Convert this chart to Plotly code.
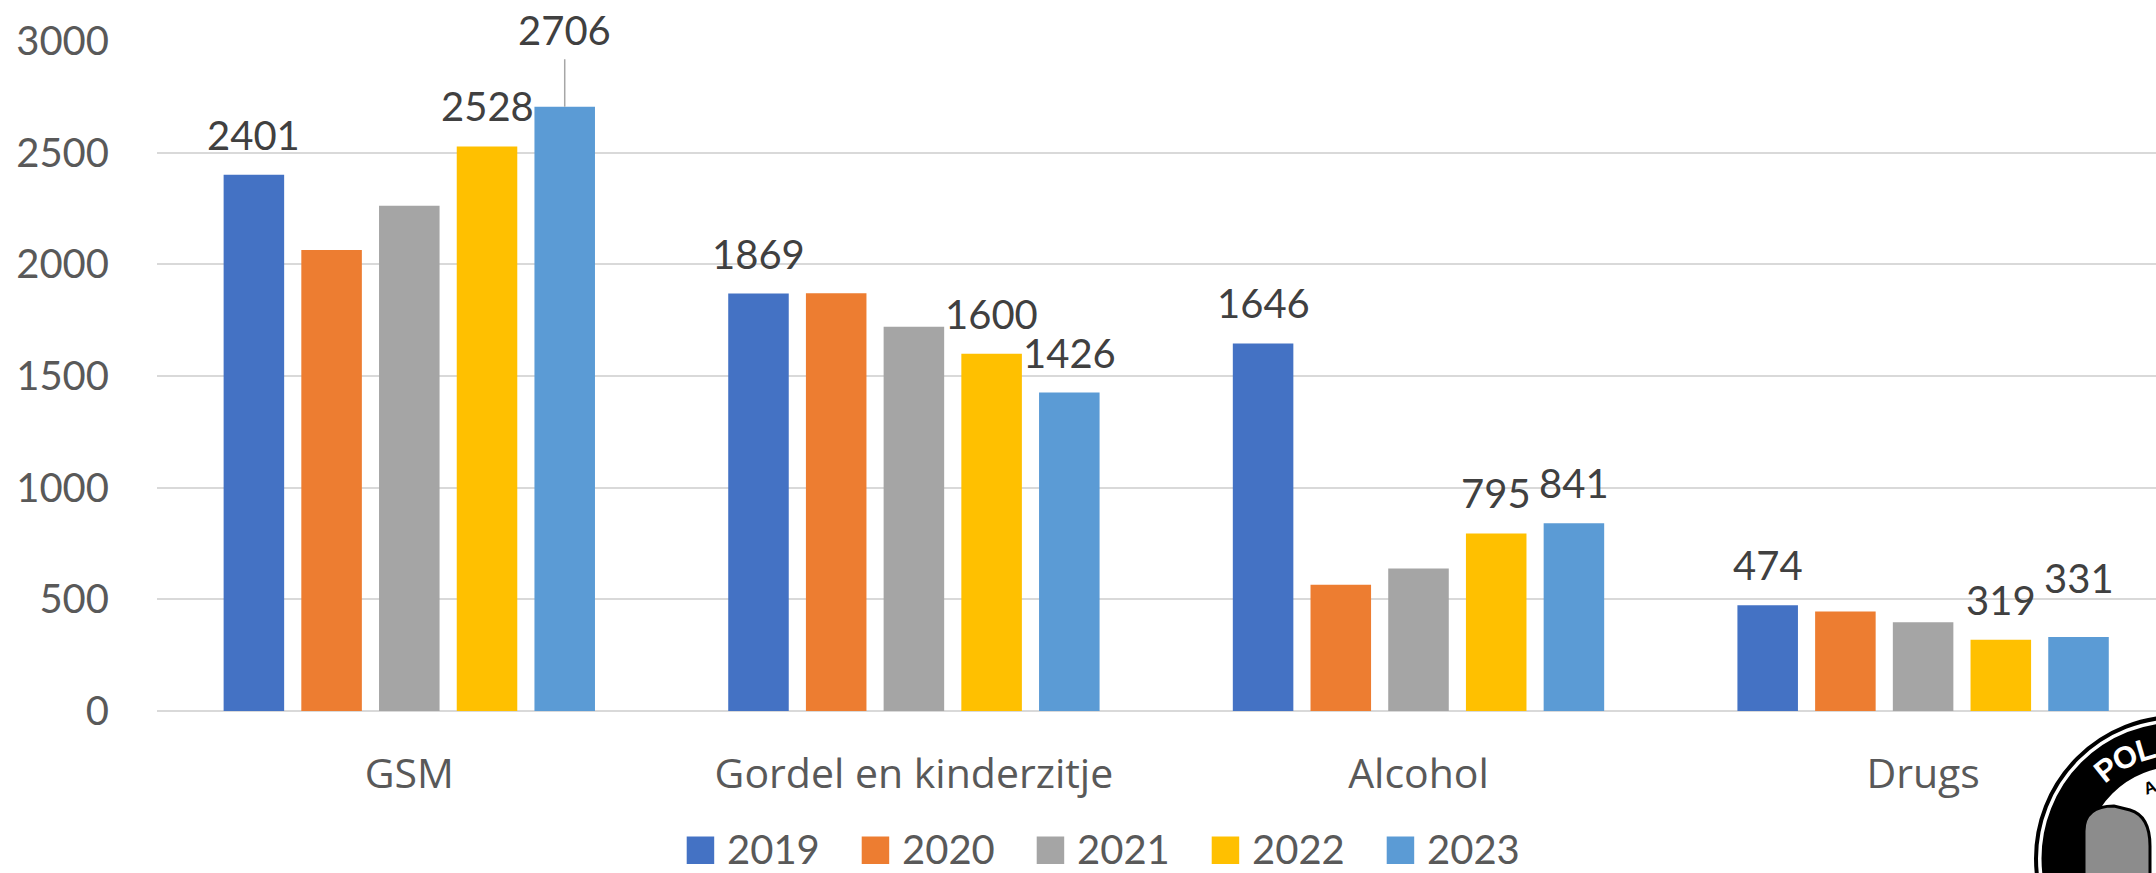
import math
import plotly.graph_objects as go

# ---------------- data ----------------
categories = ["GSM", "Gordel en kinderzitje", "Alcohol", "Drugs"]
years = ["2019", "2020", "2021", "2022", "2023"]
v2019 = [2401, 1869, 1646, 474]
v2020 = [2064, 1870, 565, 445]
v2021 = [2262, 1720, 638, 397]
v2022 = [2528, 1600, 795, 319]
v2023 = [2706, 1426, 841, 331]
y_ticks = [0, 500, 1000, 1500, 2000, 2500, 3000]
labelled_years = ["2019", "2022", "2023"]

series = {"2019": v2019, "2020": v2020, "2021": v2021, "2022": v2022, "2023": v2023}

# ---------------- style ----------------
colors = {"2019": "#4472C4", "2020": "#ED7D31", "2021": "#A5A5A5",
          "2022": "#FFC000", "2023": "#5B9BD5"}
FONT = "Lato, Carlito, Calibri, 'Open Sans', sans-serif"
CAT_FONT = "'Open Sans', Lato, sans-serif"
W, H = 2156, 873
PLOT_BOTTOM = 711
ML, MT, MR = 157, 41, 0
MB = H - PLOT_BOTTOM
band_px = 504.6
plot_w = W - ML - MR
plot_h = H - MT - MB
bargap = 0.23
bargroupgap = 0.221
label_shift_default = 40
label_shift_special = {("2023", 0): 77, ("2023", 3): 59}
leader = {("2023", 0)}


def px2paper_x(px):
    return (px - ML) / plot_w


def py2paper_y(py):
    return (PLOT_BOTTOM - py) / plot_h


fig = go.Figure()
for yr in years:
    fig.add_trace(go.Bar(
        name=yr, x=categories, y=series[yr],
        marker=dict(color=colors[yr], line=dict(width=0)),
        showlegend=False,
    ))

# data labels
n = len(years)
slot = (1 - bargap) / n
annotations = []
for j, yr in enumerate(years):
    if yr not in labelled_years:
        continue
    for i, val in enumerate(series[yr]):
        xpos = i + (j - (n - 1) / 2) * slot
        shift = label_shift_special.get((yr, i), label_shift_default)
        if (yr, i) in leader:
            annotations.append(dict(
                x=xpos, y=val, xref="x", yref="y", text=str(val),
                showarrow=True, arrowhead=0, arrowwidth=1.5, arrowcolor="#A6A6A6",
                ax=0, ay=-shift, startstandoff=4,
                font=dict(family=FONT, size=40, color="#404040"),
            ))
        else:
            annotations.append(dict(
                x=xpos, y=val, xref="x", yref="y", text=str(val),
                showarrow=False, yshift=shift, yanchor="middle",
                font=dict(family=FONT, size=40, color="#404040"),
            ))

# custom legend (large square swatches)
shapes = []
leg_x0 = 686.7
leg_step = 175
sq = 27.5
leg_top = 836.5
for k, yr in enumerate(years):
    x0 = leg_x0 + k * leg_step
    shapes.append(dict(type="rect", xref="paper", yref="paper",
                       x0=px2paper_x(x0), x1=px2paper_x(x0 + sq),
                       y0=py2paper_y(leg_top + sq), y1=py2paper_y(leg_top),
                       fillcolor=colors[yr], line=dict(width=0), layer="above"))
    annotations.append(dict(x=px2paper_x(x0 + sq + 11), y=py2paper_y(leg_top + sq / 2 - 1),
                            xref="paper", yref="paper", xanchor="left", yanchor="middle",
                            text=yr, showarrow=False,
                            font=dict(family=FONT, size=40, color="#595959")))

# decorative police badge in the bottom-right corner (partly cut off)
cx, cy = 2177.5, 858.5


def circle(r, width, color="black"):
    return dict(type="circle", xref="paper", yref="paper",
                x0=px2paper_x(cx - r), x1=px2paper_x(cx + r),
                y0=py2paper_y(cy + r), y1=py2paper_y(cy - r),
                line=dict(color=color, width=width), layer="above")


shapes.append(circle(141.5, 4))
shapes.append(circle(114, 44))
# head / helmet sketch (grey blob with black outline)
hx0, hx1, hy0, hy1 = 2084, 2150, 806, 890
shapes.append(dict(type="path", xref="paper", yref="paper",
                   path=(f"M {px2paper_x(hx0)},{py2paper_y(hy1)} "
                         f"L {px2paper_x(hx0)},{py2paper_y(hy0 + 25)} "
                         f"Q {px2paper_x(hx0)},{py2paper_y(hy0)} {px2paper_x(hx0 + 30)},{py2paper_y(hy0)} "
                         f"L {px2paper_x(hx1 - 20)},{py2paper_y(hy0 + 4)} "
                         f"Q {px2paper_x(hx1)},{py2paper_y(hy0 + 10)} {px2paper_x(hx1)},{py2paper_y(hy0 + 40)} "
                         f"L {px2paper_x(hx1)},{py2paper_y(hy1)} Z"),
                   fillcolor="#8c8c8c", line=dict(color="black", width=3), layer="above"))

for k, ch in enumerate("POL"):
    phi = math.radians(-128.8 + 11.2 * k)
    r = 114
    annotations.append(dict(
        x=px2paper_x(cx + r * math.cos(phi)), y=py2paper_y(cy + r * math.sin(phi)),
        xref="paper", yref="paper", text=f"<b>{ch}</b>", showarrow=False,
        textangle=math.degrees(phi) + 90, xanchor="center", yanchor="middle",
        font=dict(family="Liberation Sans, Arial, sans-serif", size=31, color="white")))
phi = math.radians(-111)
annotations.append(dict(
    x=px2paper_x(cx + 76 * math.cos(phi)), y=py2paper_y(cy + 76 * math.sin(phi)),
    xref="paper", yref="paper", text="<b>A</b>", showarrow=False,
    textangle=math.degrees(phi) + 90, xanchor="center", yanchor="middle",
    font=dict(family="Liberation Sans, Arial, sans-serif", size=17, color="black")))

fig.update_layout(
    width=W, height=H,
    margin=dict(l=ML, r=MR, t=MT, b=MB, pad=0),
    paper_bgcolor="white", plot_bgcolor="white",
    barmode="group", bargap=bargap, bargroupgap=bargroupgap,
    showlegend=False,
    font=dict(family=FONT, color="#595959"),
    xaxis=dict(
        type="category", range=[-0.5, -0.5 + plot_w / band_px],
        showgrid=False, showline=False, zeroline=False, ticks="",
        tickfont=dict(family=CAT_FONT, size=41, color="#595959"),
        ticklabelstandoff=35, fixedrange=True,
    ),
    yaxis=dict(
        range=[0, 3000], tickvals=y_ticks, ticktext=[str(t) for t in y_ticks],
        showgrid=True, gridcolor="#D9D9D9", gridwidth=2,
        zeroline=True, zerolinecolor="#D9D9D9", zerolinewidth=2,
        showline=False, ticks="",
        tickfont=dict(family=FONT, size=40, color="#595959"),
        ticklabelstandoff=47, fixedrange=True,
    ),
    annotations=annotations,
    shapes=shapes,
)

# remove the browser's default 8px page margin so the figure fills the window
fig.write_html(
    "out.html",
    config={"displayModeBar": False},
    post_script="document.body.style.margin='0';"
                "document.documentElement.style.overflow='hidden';",
)
